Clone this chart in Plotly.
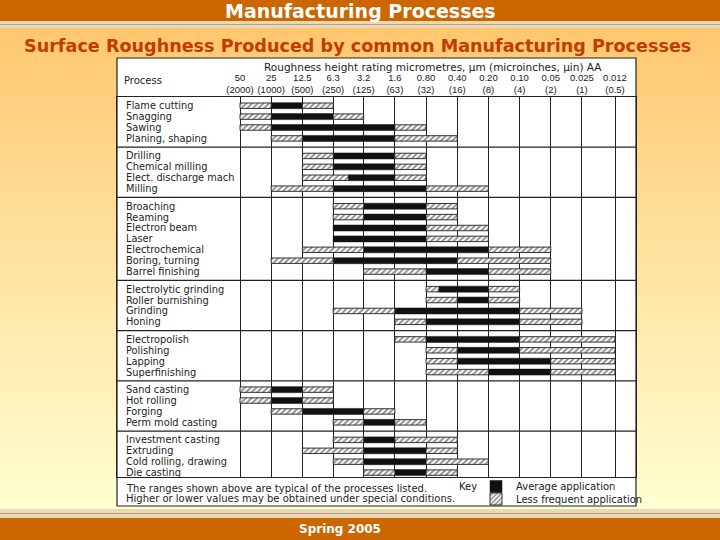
import base64
import math
import struct
import zlib

import plotly.graph_objects as go

# ---------------- data ----------------
roughness_um = [50, 25, 12.5, 6.3, 3.2, 1.6, 0.80, 0.40, 0.20, 0.10, 0.05, 0.025, 0.012]
um_labels = ["50", "25", "12.5", "6.3", "3.2", "1.6", "0.80", "0.40", "0.20", "0.10", "0.05", "0.025", "0.012"]
uin_labels = ["(2000)", "(1000)", "(500)", "(250)", "(125)", "(63)", "(32)", "(16)", "(8)", "(4)", "(2)", "(1)", "(0.5)"]

process_groups = [
    ["Flame cutting", "Snagging", "Sawing", "Planing, shaping"],
    ["Drilling", "Chemical milling", "Elect. discharge mach", "Milling"],
    ["Broaching", "Reaming", "Electron beam", "Laser", "Electrochemical",
     "Boring, turning", "Barrel finishing"],
    ["Electrolytic grinding", "Roller burnishing", "Grinding", "Honing"],
    ["Electropolish", "Polishing", "Lapping", "Superfinishing"],
    ["Sand casting", "Hot rolling", "Forging", "Perm mold casting"],
    ["Investment casting", "Extruding", "Cold rolling, drawing", "Die casting"],
]

# (coarse end, fine end) in micrometres, one entry per process in the order above
less_frequent_coarse = [
    (50, 25), (50, 25), (50, 25), (25, 12.5),
    (12.5, 6.3), (12.5, 6.3), (12.5, 4.5), (25, 6.3),
    (6.3, 3.2), (6.3, 3.2), None, None, (12.5, 3.2), (25, 6.3), (3.2, 0.8),
    (0.8, 0.6), (0.8, 0.4), (6.3, 1.6), (1.6, 0.8),
    (1.6, 0.8), (0.8, 0.4), (0.8, 0.4), (0.8, 0.2),
    (50, 25), (50, 25), (25, 12.5), (6.3, 3.2),
    (6.3, 3.2), (12.5, 3.2), (6.3, 3.2), (3.2, 1.6),
]
average_application = [
    (25, 12.5), (25, 6.3), (25, 1.6), (12.5, 1.6),
    (6.3, 1.6), (6.3, 1.6), (4.5, 1.6), (6.3, 0.8),
    (3.2, 0.8), (3.2, 0.8), (6.3, 0.8), (6.3, 0.8), (3.2, 0.2), (6.3, 0.4), (0.8, 0.2),
    (0.6, 0.2), (0.4, 0.2), (1.6, 0.1), (0.8, 0.1),
    (0.8, 0.1), (0.4, 0.1), (0.4, 0.05), (0.2, 0.05),
    (25, 12.5), (25, 12.5), (12.5, 3.2), (3.2, 1.6),
    (3.2, 1.6), (3.2, 0.8), (3.2, 0.8), (1.6, 0.8),
]
less_frequent_fine = [
    (12.5, 6.3), (6.3, 3.2), (1.6, 0.8), (1.6, 0.4),
    (1.6, 0.8), (1.6, 0.8), (1.6, 0.8), (0.8, 0.2),
    (0.8, 0.4), (0.8, 0.4), (0.8, 0.2), (0.8, 0.2), (0.2, 0.05), (0.4, 0.05), (0.2, 0.05),
    (0.2, 0.1), (0.2, 0.1), (0.1, 0.025), (0.1, 0.025),
    (0.1, 0.012), (0.1, 0.012), (0.05, 0.012), (0.05, 0.012),
    (12.5, 6.3), (12.5, 6.3), (3.2, 1.6), (1.6, 0.8),
    (1.6, 0.4), (0.8, 0.4), (0.8, 0.2), (0.8, 0.4),
]

# ---------------- layout geometry (pixels of the 720x540 page) ----------------
W, H = 720, 540
TABLE_L, TABLE_R, TABLE_T, TABLE_B = 117, 636, 58, 506
GRID_T, GRID_B = 97, 477
LINE_FIRST_PX, LINE_LAST_PX = 240, 615          # px of the 50 and 0.012 lines
ROW0_PX, ROW_PX = 105.7, 10.9                    # first row centre, row pitch
GROUP_GAP = 0.61                                 # extra space between groups (rows)


def px_x(p):
    return p / W


def px_y(p):
    return 1 - p / H


lg_first = math.log10(roughness_um[0])
lg_last = math.log10(roughness_um[-1])
px_per_dec = (LINE_LAST_PX - LINE_FIRST_PX) / (lg_first - lg_last)
x_range = [lg_first + (LINE_FIRST_PX - TABLE_L) / px_per_dec,
           lg_last - (TABLE_R - LINE_LAST_PX) / px_per_dec]

y_top = -(ROW0_PX - GRID_T) / ROW_PX
y_bot = y_top + (GRID_B - GRID_T) / ROW_PX

# row positions
names, ypos, separators = [], [], []
idx = 0
for g, grp in enumerate(process_groups):
    for name in grp:
        names.append(name)
        ypos.append(idx + g * GROUP_GAP)
        idx += 1
    if g < len(process_groups) - 1:
        separators.append(ypos[-1] + 0.5 + GROUP_GAP / 2)


def bar_arrays(ranges):
    ys, bases, lens = [], [], []
    for y, r in zip(ypos, ranges):
        if r is None:
            continue
        hi, lo = r
        ys.append(y)
        bases.append(lo)
        lens.append(hi - lo)
    return ys, bases, lens


# ---------------- small PNG helper for gradients ----------------
def png_uri(w, h, pix):
    raw = b"".join(b"\x00" + b"".join(bytes(pix(x, y)) for x in range(w)) for y in range(h))

    def chunk(t, d):
        c = struct.pack(">I", len(d)) + t + d
        return c + struct.pack(">I", zlib.crc32(t + d) & 0xffffffff)

    data = (b"\x89PNG\r\n\x1a\n" + chunk(b"IHDR", struct.pack(">IIBBBBB", w, h, 8, 6, 0, 0, 0))
            + chunk(b"IDAT", zlib.compress(raw, 9)) + chunk(b"IEND", b""))
    return "data:image/png;base64," + base64.b64encode(data).decode()


def lerp(a, b, t):
    return int(round(a + (b - a) * t))


top_c, bot_c = (255, 200, 110), (255, 255, 208)
bg_png = png_uri(1, 120, lambda x, y: (lerp(top_c[0], bot_c[0], y / 119),
                                       lerp(top_c[1], bot_c[1], (y / 119)),
                                       lerp(top_c[2], bot_c[2], (y / 119) ** 0.9), 255))


def glow_head(x, y):
    t = x / 59
    a = max(0.0, min(1.0, (t - 0.15) / 0.55)) * (1 - 0.25 * (y / 20))
    return (255, 250, 240, int(220 * a))


def glow_foot(x, y):
    t = x / 59
    a = max(0.0, 1 - t / 0.9) * (0.8 + 0.2 * (y / 20))
    return (255, 245, 235, int(230 * a))


head_png = png_uri(60, 21, glow_head)
foot_png = png_uri(60, 21, glow_foot)

# ---------------- figure ----------------
FONT = "DejaVu Sans, Liberation Sans, sans-serif"
TICK_FONT = "Liberation Sans, Arial, sans-serif"
INK = "#222222"

fig = go.Figure()

ys, bs, ls = bar_arrays(average_application)
fig.add_trace(go.Bar(
    name="Average application", orientation="h", y=ys, base=bs, x=ls,
    width=0.55, marker=dict(color="#111111", line=dict(color="#111111", width=0.5)),
    hoverinfo="skip", legend="legend"))

yc, bc, lc = bar_arrays(less_frequent_coarse)
yf, bf, lf = bar_arrays(less_frequent_fine)
fig.add_trace(go.Bar(
    name="Less frequent application", orientation="h", y=yc + yf, base=bc + bf, x=lc + lf,
    width=0.5,
    marker=dict(color="white", line=dict(color=INK, width=0.9),
                pattern=dict(shape="/", fgcolor=INK, bgcolor="white", size=4, solidity=0.5)),
    hoverinfo="skip", legend="legend2"))

shapes = [
    # page decoration
    dict(type="rect", xref="paper", yref="paper", x0=0, x1=1, y0=px_y(21), y1=1,
         fillcolor="#CC6600", line_width=0, layer="below"),
    dict(type="rect", xref="paper", yref="paper", x0=0, x1=1, y0=px_y(28), y1=px_y(21),
         fillcolor="#EAD8B8", line_width=0, layer="below"),
    dict(type="line", xref="paper", yref="paper", x0=0, x1=1, y0=px_y(24.5), y1=px_y(24.5),
         line=dict(color="#B9A07E", width=1), layer="below"),
    dict(type="rect", xref="paper", yref="paper", x0=0, x1=1, y0=px_y(518), y1=px_y(509),
         fillcolor="#EAD8B8", line_width=0, layer="below"),
    dict(type="line", xref="paper", yref="paper", x0=0, x1=1, y0=px_y(513.5), y1=px_y(513.5),
         line=dict(color="#B9A07E", width=1), layer="below"),
    dict(type="rect", xref="paper", yref="paper", x0=0, x1=1, y0=0, y1=px_y(518),
         fillcolor="#CC6600", line_width=0, layer="below"),
    # scanned table sheet
    dict(type="rect", xref="paper", yref="paper", x0=px_x(TABLE_L), x1=px_x(TABLE_R),
         y0=px_y(TABLE_B), y1=px_y(TABLE_T), fillcolor="white",
         line=dict(color=INK, width=1.2), layer="below"),
]
for s in separators:
    shapes.append(dict(type="line", xref="paper", yref="y", x0=px_x(TABLE_L), x1=px_x(TABLE_R),
                       y0=s, y1=s, line=dict(color=INK, width=1.2)))


def note(text, x, y, size=10, color=INK, family=FONT, xanchor="left"):
    return dict(text=text, x=px_x(x), y=px_y(y), xref="paper", yref="paper", showarrow=False,
                xanchor=xanchor, yanchor="middle", font=dict(family=family, size=size, color=color))


annotations = [
    note("<b>Manufacturing Processes</b>", 360, 10.5, 19, "white", "DejaVu Sans", "center"),
    note("<b>Surface Roughness Produced by common Manufacturing Processes</b>", 357, 46,
         17.6, "#C23B00", "DejaVu Sans", "center"),
    note("<b>Spring 2005</b>", 340, 528.5, 12, "white", "DejaVu Sans", "center"),
    note("Roughness height rating micrometres, \u03bcm (microinches, \u03bcin) AA", 433, 67,
         10.5, xanchor="center"),
    note("Process", 122, 80.5),
    note("The ranges shown above are typical of the processes listed.", 124, 488.5),
    note("Higher or lower values may be obtained under special conditions.", 124, 498.5),
    note("Key", 457, 486.5),
]
for n, y in zip(names, ypos):
    annotations.append(dict(text=n, x=px_x(124), y=y, xref="paper", yref="y", showarrow=False,
                            xanchor="left", yanchor="middle",
                            font=dict(family=FONT, size=9.8, color=INK)))

images = [
    dict(source=bg_png, xref="paper", yref="paper", x=0, y=px_y(28), sizex=1,
         sizey=px_y(28) - px_y(509), sizing="stretch", xanchor="left", yanchor="top", layer="below"),
    dict(source=head_png, xref="paper", yref="paper", x=px_x(625), y=1, sizex=px_x(95),
         sizey=1 - px_y(21), sizing="stretch", xanchor="left", yanchor="top", layer="below"),
    dict(source=foot_png, xref="paper", yref="paper", x=0, y=px_y(518), sizex=px_x(80),
         sizey=px_y(518), sizing="stretch", xanchor="left", yanchor="top", layer="below"),
]

axis_common = dict(type="log", range=x_range, tickmode="array", tickvals=roughness_um,
                   ticks="", side="top", tickangle=0,
                   tickfont=dict(family=TICK_FONT, size=9.5, color=INK),
                   domain=[px_x(TABLE_L), px_x(TABLE_R)], fixedrange=True)

legend_common = dict(xanchor="left", yanchor="middle", bgcolor="rgba(0,0,0,0)",
                     font=dict(family=FONT, size=10, color=INK), itemclick=False,
                     itemdoubleclick=False, borderwidth=0)

fig.update_layout(
    width=W, height=H, margin=dict(l=0, r=0, t=0, b=0),
    paper_bgcolor="#FFE9A8", plot_bgcolor="white",
    barmode="overlay", bargap=0,
    xaxis=dict(**axis_common, ticktext=um_labels, ticklabelstandoff=11,
               showgrid=True, gridcolor=INK, gridwidth=1,
               showline=True, mirror=True, linecolor=INK, linewidth=1.2, zeroline=False),
    xaxis2=dict(**axis_common, ticktext=uin_labels, ticklabelstandoff=1,
                overlaying="x", matches="x", showgrid=False, showline=False, zeroline=False),
    yaxis=dict(range=[y_bot, y_top], domain=[px_y(GRID_B), px_y(GRID_T)], showticklabels=False,
               showgrid=False, zeroline=False, showline=True, mirror=True, linecolor=INK,
               linewidth=1.2, fixedrange=True),
    shapes=shapes, annotations=annotations, images=images,
    showlegend=True,
    legend=dict(x=px_x(476), y=px_y(486.5), **legend_common),
    legend2=dict(x=px_x(476), y=px_y(499), **legend_common),
)

# an invisible trace so the micro-inch axis is drawn
fig.add_trace(go.Scatter(x=[roughness_um[0]], y=[ypos[0]], xaxis="x2", mode="markers",
                         marker=dict(opacity=0), showlegend=False, hoverinfo="skip"))

fig.write_html("out.html", config=dict(displayModeBar=False, staticPlot=True),
               post_script="document.body.style.margin='0';")
